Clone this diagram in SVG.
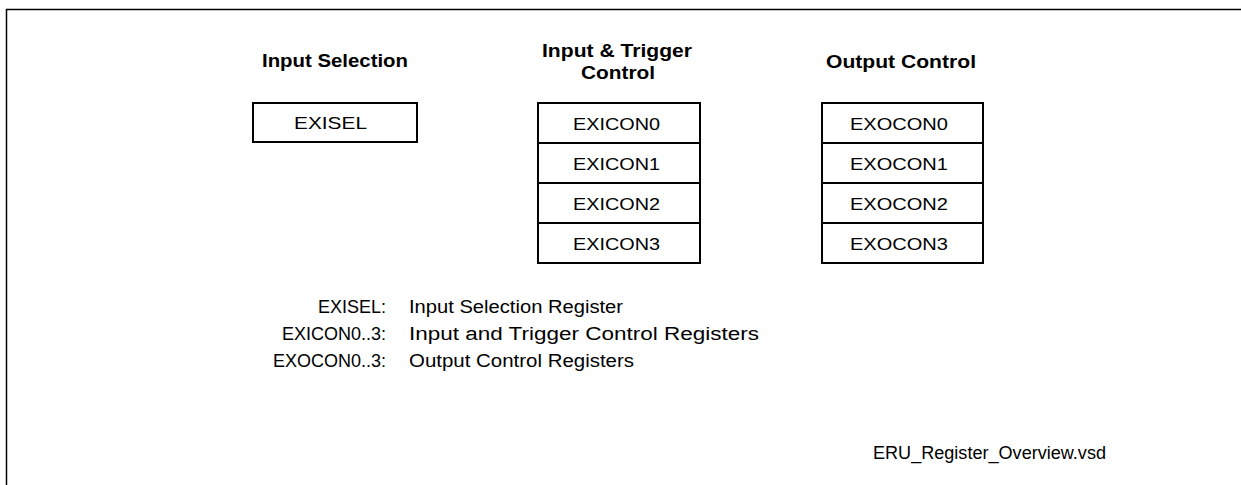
<svg xmlns="http://www.w3.org/2000/svg" width="1241" height="485" viewBox="0 0 1241 485">
<style>
.t{font-family:"Liberation Sans",Arial,sans-serif;font-size:18px;font-weight:bold;fill:#000}
.r{font-family:"Liberation Sans",Arial,sans-serif;font-size:17px;fill:#000}
.l{font-family:"Liberation Sans",Arial,sans-serif;font-size:18px;fill:#000}
.b{fill:#fff;stroke:#000;stroke-width:2}
</style>
<rect width="1241" height="485" fill="#fff"/>
<path d="M6.5 485 V9.5 H1241" fill="none" stroke="#000" stroke-width="1.5"/>
<g id="titles">
<text class="t" x="262" y="67" textLength="146" lengthAdjust="spacingAndGlyphs">Input Selection</text>
<text class="t" x="542" y="57" textLength="150" lengthAdjust="spacingAndGlyphs">Input &amp; Trigger</text>
<text class="t" x="581" y="79" textLength="74" lengthAdjust="spacingAndGlyphs">Control</text>
<text class="t" x="826" y="67.5" textLength="150" lengthAdjust="spacingAndGlyphs">Output Control</text>
</g>
<g id="exisel"><rect class="b" x="253" y="103" width="164" height="39"/><text class="r" x="294" y="129" textLength="73" lengthAdjust="spacingAndGlyphs">EXISEL</text></g>
<g id="exicon0"><rect class="b" x="538" y="103" width="162" height="40"/><text class="r" x="573" y="129.5" textLength="87" lengthAdjust="spacingAndGlyphs">EXICON0</text></g>
<g id="exicon1"><rect class="b" x="538" y="143" width="162" height="40"/><text class="r" x="573" y="169.5" textLength="87" lengthAdjust="spacingAndGlyphs">EXICON1</text></g>
<g id="exicon2"><rect class="b" x="538" y="183" width="162" height="40"/><text class="r" x="573" y="209.5" textLength="87" lengthAdjust="spacingAndGlyphs">EXICON2</text></g>
<g id="exicon3"><rect class="b" x="538" y="223" width="162" height="40"/><text class="r" x="573" y="249.5" textLength="87" lengthAdjust="spacingAndGlyphs">EXICON3</text></g>
<g id="exocon0"><rect class="b" x="822" y="103" width="161" height="40"/><text class="r" x="850" y="129.5" textLength="98" lengthAdjust="spacingAndGlyphs">EXOCON0</text></g>
<g id="exocon1"><rect class="b" x="822" y="143" width="161" height="40"/><text class="r" x="850" y="169.5" textLength="98" lengthAdjust="spacingAndGlyphs">EXOCON1</text></g>
<g id="exocon2"><rect class="b" x="822" y="183" width="161" height="40"/><text class="r" x="850" y="209.5" textLength="98" lengthAdjust="spacingAndGlyphs">EXOCON2</text></g>
<g id="exocon3"><rect class="b" x="822" y="223" width="161" height="40"/><text class="r" x="850" y="249.5" textLength="98" lengthAdjust="spacingAndGlyphs">EXOCON3</text></g>
<g id="legend">
<text class="l" x="386" y="312.5" text-anchor="end">EXISEL:</text>
<text class="l" x="409" y="312.5" textLength="214" lengthAdjust="spacingAndGlyphs">Input Selection Register</text>
<text class="l" x="386" y="339.5" text-anchor="end">EXICON0..3:</text>
<text class="l" x="409" y="339.5" textLength="350" lengthAdjust="spacingAndGlyphs">Input and Trigger Control Registers</text>
<text class="l" x="386" y="366.5" text-anchor="end">EXOCON0..3:</text>
<text class="l" x="409" y="366.5" textLength="225" lengthAdjust="spacingAndGlyphs">Output Control Registers</text>
</g>
<text class="l" x="873" y="458.5" textLength="233" lengthAdjust="spacingAndGlyphs">ERU_Register_Overview.vsd</text>
</svg>
